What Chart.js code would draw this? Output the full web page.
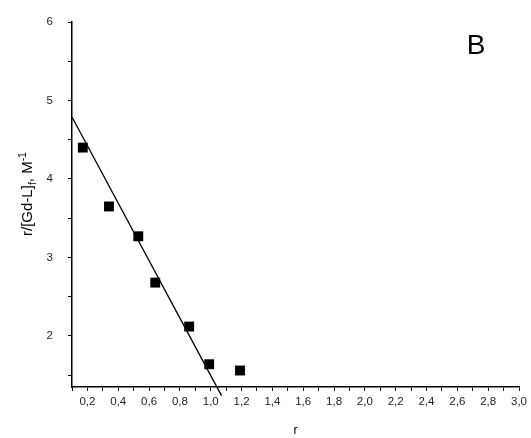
<!DOCTYPE html>
<html>
<head>
<meta charset="utf-8">
<script src="https://cdn.jsdelivr.net/npm/chart.js@4"></script>
<style>
  html, body { margin: 0; padding: 0; background: #fff; }
  #wrap { width: 531px; height: 438px; position: relative; }
</style>
</head>
<body>
<div id="wrap"><canvas id="chart" width="531" height="438"></canvas></div>
<script>
// Data
const rValues = [0.17, 0.34, 0.53, 0.64, 0.86, 0.99, 1.19];
const ratioValues = [4.40, 3.65, 3.27, 2.68, 2.12, 1.64, 1.56];

// Fitted straight line (end points)
const fitR = [0.1, 1.07];
const fitRatio = [4.79, 1.24];

// Axis ticks
const xTicks = [0.1, 0.2, 0.3, 0.4, 0.5, 0.6, 0.7, 0.8, 0.9, 1.0,
  1.1, 1.2, 1.3, 1.4, 1.5, 1.6, 1.7, 1.8, 1.9, 2.0,
  2.1, 2.2, 2.3, 2.4, 2.5, 2.6, 2.7, 2.8, 2.9, 3.0];
const yTicks = [1.5, 2, 2.5, 3, 3.5, 4, 4.5, 5, 5.5, 6];

const panelLabel = 'B';
const xTitle = 'r';

const FONT = '"Liberation Sans", Arial, sans-serif';

// y title with subscript f and superscript -1, plus the panel letter
const yTitlePlugin = {
  id: 'yTitle',
  afterDraw(chart) {
    const ctx = chart.ctx;
    const size = 15;
    const parts = [
      { t: 'r/[Gd-L]', s: size, dy: 0 },
      { t: 'f', s: size * 0.7, dy: 4 },
      { t: ', M', s: size, dy: 0 },
      { t: '-1', s: size * 0.7, dy: -6 }
    ];
    ctx.save();
    ctx.translate(27, 194);
    ctx.rotate(-Math.PI / 2);
    ctx.fillStyle = '#000';
    ctx.textBaseline = 'alphabetic';
    let total = 0;
    parts.forEach(p => {
      ctx.font = p.s + 'px ' + FONT;
      p.w = ctx.measureText(p.t).width;
      total += p.w;
    });
    let x = -total / 2;
    parts.forEach(p => {
      ctx.font = p.s + 'px ' + FONT;
      ctx.fillText(p.t, x, 5 + p.dy);
      x += p.w;
    });
    ctx.restore();

    ctx.save();
    ctx.font = '28px ' + FONT;
    ctx.fillStyle = '#000';
    ctx.textAlign = 'center';
    ctx.textBaseline = 'middle';
    ctx.fillText(panelLabel, 476, 46);
    ctx.restore();
  }
};

function fmt(v) {
  return v.toFixed(1).replace('.', ',');
}

new Chart(document.getElementById('chart'), {
  type: 'scatter',
  data: {
    datasets: [
      {
        data: rValues.map((r, i) => ({ x: r, y: ratioValues[i] })),
        pointStyle: 'rect',
        pointRadius: 7,
        backgroundColor: '#000',
        borderWidth: 0
      },
      {
        data: fitR.map((r, i) => ({ x: r, y: fitRatio[i] })),
        showLine: true,
        pointRadius: 0,
        borderColor: '#000',
        borderWidth: 1.3,
        clip: false
      }
    ]
  },
  options: {
    responsive: false,
    animation: false,
    devicePixelRatio: 1,
    layout: { padding: { left: 0, right: 12, top: 22, bottom: 0 } },
    plugins: {
      legend: { display: false },
      tooltip: { enabled: false }
    },
    scales: {
      x: {
        type: 'linear',
        min: 0.1,
        max: 3.0,
        afterBuildTicks: s => { s.ticks = xTicks.map(v => ({ value: v })); },
        afterFit: s => { s.height = 51; },
        ticks: {
          autoSkip: false,
          maxRotation: 0,
          padding: 4,
          color: '#222',
          font: { family: FONT, size: 11.5 },
          callback: v => {
            const n = Math.round(v * 10);
            return (n % 2 === 0) ? fmt(n / 10) : '';
          }
        },
        grid: { drawOnChartArea: false, tickLength: 4, color: '#000' },
        border: { color: '#000', width: 1.5 },
        title: {
          display: true,
          text: xTitle,
          color: '#000',
          font: { family: FONT, size: 12 },
          padding: { top: 0, bottom: 0 }
        }
      },
      y: {
        type: 'linear',
        min: 1.35,
        max: 6,
        afterBuildTicks: s => { s.ticks = yTicks.map(v => ({ value: v })); },
        afterFit: s => { s.width = 72; },
        ticks: {
          autoSkip: false,
          padding: 15,
          color: '#222',
          font: { family: FONT, size: 11.5 },
          callback: v => (Number.isInteger(v) ? String(v) : '')
        },
        grid: { drawOnChartArea: false, tickLength: 4, color: '#000' },
        border: { color: '#000', width: 1.5 }
      }
    }
  },
  plugins: [yTitlePlugin]
});
</script>
</body>
</html>
